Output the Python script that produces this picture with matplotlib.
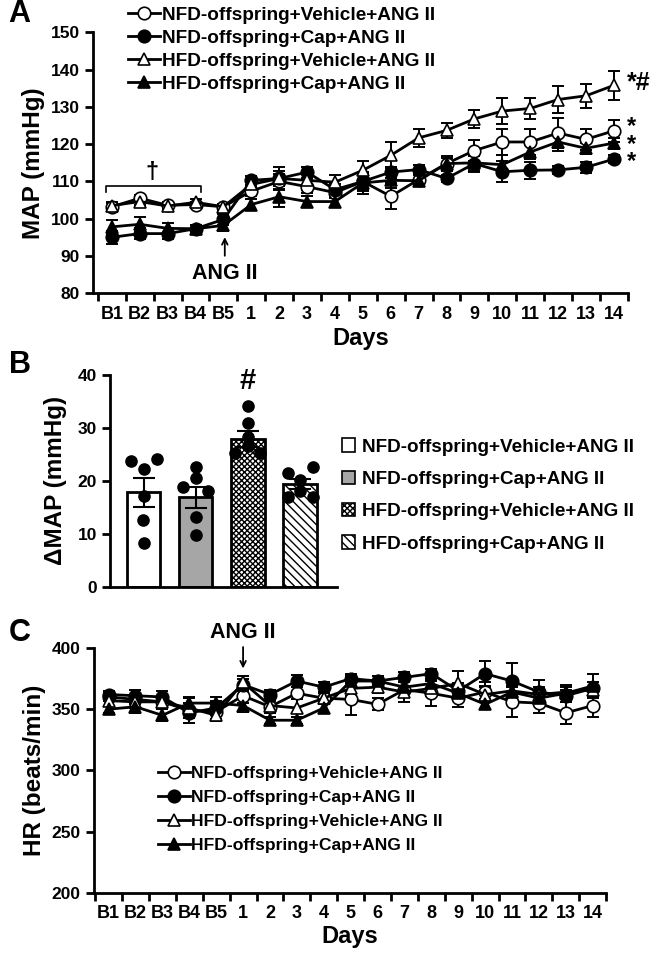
import numpy as np
import matplotlib
matplotlib.use("Agg")
import matplotlib.pyplot as plt
from matplotlib.patches import Patch

plt.rcParams['font.family'] = ['Liberation Sans', 'DejaVu Sans']
plt.rcParams['font.weight'] = 'bold'
plt.rcParams['axes.labelweight'] = 'bold'
plt.rcParams['hatch.linewidth'] = 1.0

# --- Data ---
day_labels = ["B1", "B2", "B3", "B4", "B5", "1", "2", "3", "4", "5", "6", "7",
              "8", "9", "10", "11", "12", "13", "14"]
group_names = ["NFD-offspring+Vehicle+ANG II", "NFD-offspring+Cap+ANG II",
               "HFD-offspring+Vehicle+ANG II", "HFD-offspring+Cap+ANG II"]

# Panel A: MAP (mmHg), mean and SEM
map_nfd_veh = [103.2, 105.5, 103.6, 103.8, 103.2, 107.4, 110.0, 108.6, 107.0, 110.0,
               106.0, 110.5, 114.8, 118.3, 120.6, 120.6, 123.0, 121.3, 123.6]
map_nfd_cap = [95.0, 96.0, 96.0, 97.3, 99.8, 110.3, 110.8, 112.5, 107.8, 110.0,
               112.5, 113.2, 110.8, 114.8, 112.6, 113.0, 113.1, 113.8, 116.0]
map_hfd_veh = [103.5, 104.6, 103.4, 104.4, 103.2, 109.2, 110.8, 110.3, 109.8, 113.0,
               117.0, 121.7, 123.7, 126.8, 128.9, 129.6, 132.0, 133.0, 135.8]
map_hfd_cap = [97.8, 98.5, 97.4, 97.3, 98.2, 103.8, 105.9, 104.6, 104.6, 109.6,
               110.3, 110.2, 114.8, 115.0, 114.5, 117.9, 120.6, 118.9, 120.3]
map_err_nfd_veh = [1.0, 0.8, 0.8, 0.8, 0.8, 1.2, 2.0, 1.8, 1.5, 2.5, 3.5, 1.5, 1.5,
                   2.8, 3.5, 3.5, 4.0, 2.8, 3.0]
map_err_nfd_cap = [1.8, 1.5, 1.5, 1.0, 1.5, 1.2, 2.0, 1.5, 1.5, 2.0, 1.5, 1.2, 1.0,
                   2.0, 2.8, 2.3, 1.0, 1.5, 1.0]
map_err_hfd_veh = [1.0, 0.8, 0.8, 1.0, 0.8, 1.5, 3.2, 2.5, 2.0, 2.5, 3.5, 2.5, 2.0,
                   2.5, 3.5, 2.8, 3.5, 3.2, 3.8]
map_err_hfd_cap = [1.8, 2.0, 1.5, 1.0, 1.5, 1.5, 2.8, 1.5, 1.5, 3.0, 2.0, 1.5, 2.0,
                   2.5, 2.5, 2.0, 2.5, 1.5, 1.5]

# Panel B: delta MAP (mmHg)
dmap_mean = [17.8, 16.9, 27.9, 19.4]
dmap_sem = [2.7, 2.0, 1.6, 1.0]
dmap_points = [
    [23.8, 22.2, 24.1, 17.2, 12.6, 8.2],
    [22.6, 20.6, 18.9, 18.0, 13.2, 9.8],
    [34.1, 31.0, 28.2, 26.5, 25.2, 25.2],
    [21.4, 22.6, 20.2, 17.0, 17.0, 18.0],
]
dmap_jitter = [
    [-0.24, 0.0, 0.25, 0.0, -0.02, 0.0],
    [0.0, 0.0, -0.24, 0.24, 0.0, 0.0],
    [0.0, 0.0, 0.0, 0.0, -0.24, 0.24],
    [-0.24, 0.24, 0.0, -0.24, 0.24, 0.0],
]

# Panel C: HR (beats/min), mean and SEM
hr_nfd_veh = [360, 358, 356, 349, 348, 361, 352, 363, 359, 358, 354, 366, 363, 359,
              364, 356, 355, 347, 353]
hr_nfd_cap = [362, 361, 360, 347, 351, 370, 362, 373, 368, 375, 373, 376, 379, 365,
              379, 373, 364, 361, 367]
hr_hfd_veh = [357, 356, 356, 351, 345, 372, 353, 351, 359, 367, 368, 364, 367, 371,
              362, 365, 362, 364, 366]
hr_hfd_cap = [350, 352, 345, 355, 355, 353, 341, 341, 351, 373, 373, 368, 371, 363,
              354, 364, 359, 363, 369]
hr_err_nfd_veh = [3, 4, 4, 10, 6, 6, 5, 5, 4, 13, 5, 6, 10, 7, 8, 12, 8, 9, 9]
hr_err_nfd_cap = [3, 5, 5, 8, 6, 5, 4, 5, 4, 4, 4, 4, 4, 6, 10, 15, 10, 5, 5]
hr_err_hfd_veh = [4, 4, 4, 8, 5, 5, 6, 7, 5, 6, 5, 8, 6, 10, 6, 8, 6, 6, 6]
hr_err_hfd_cap = [3, 5, 5, 5, 5, 5, 3, 3, 4, 4, 4, 4, 4, 4, 4, 5, 5, 5, 10]

markers = [dict(marker='o', mfc='white'), dict(marker='o', mfc='black'),
           dict(marker='^', mfc='white'), dict(marker='^', mfc='black')]


def draw_series(ax, x, means, errs):
    for m, e, st, name in zip(means, errs, markers, group_names):
        ax.errorbar(x, m, yerr=e, fmt='none', ecolor='black', elinewidth=1.4,
                    capsize=4, capthick=1.4, zorder=2)
        ax.plot(x, m, color='black', lw=2, marker=st['marker'], mfc=st['mfc'],
                mec='black', mew=1.2, ms=9, label=name, zorder=3)


def style_time_axis(ax, n):
    for s in ['top', 'right']:
        ax.spines[s].set_visible(False)
    for s in ['left', 'bottom']:
        ax.spines[s].set_linewidth(2)
    ax.set_xticks(np.arange(n + 1) - 0.5)
    ax.set_xticklabels([])
    ax.set_xticks(np.arange(n), minor=True)
    ax.set_xticklabels(day_labels, minor=True, fontsize=13, fontweight='bold')
    ax.tick_params(axis='x', which='major', length=6, width=2, direction='out')
    ax.tick_params(axis='x', which='minor', length=0, pad=9)
    ax.tick_params(axis='y', length=6, width=2, labelsize=12.5)
    for t in ax.get_yticklabels():
        t.set_fontweight('bold')


fig = plt.figure(figsize=(6.56, 9.55), dpi=100)
x = np.arange(len(day_labels))

# ---------- Panel A ----------
axA = fig.add_axes([0.142, 0.693, 0.815, 0.273])
draw_series(axA, x,
            [map_nfd_veh, map_nfd_cap, map_hfd_veh, map_hfd_cap],
            [map_err_nfd_veh, map_err_nfd_cap, map_err_hfd_veh, map_err_hfd_cap])
axA.set_xlim(-0.67, 18.5)
axA.set_ylim(80, 150)
axA.set_yticks(np.arange(80, 151, 10))
style_time_axis(axA, len(day_labels))
axA.set_ylabel("MAP (mmHg)", fontsize=17.5, labelpad=4)
axA.set_xlabel("Days", fontsize=17, labelpad=3)
axA.legend(loc='upper left', bbox_to_anchor=(0.195, 0.993),
           bbox_transform=fig.transFigure, frameon=False, fontsize=13.7,
           handlelength=1.7, handletextpad=0.1, labelspacing=0.3,
           borderaxespad=0, borderpad=0)
# baseline bracket and dagger
axA.plot([-0.22, -0.22, 3.18, 3.18], [107.3, 108.8, 108.8, 107.3], color='black',
         lw=1.2)
axA.text(1.44, 112.5, "†", ha='center', va='center', fontsize=17, fontweight='bold')
axA.annotate("", xy=(4.05, 95.8), xytext=(4.05, 89.3),
             arrowprops=dict(arrowstyle='->', color='black', lw=1.3))
axA.text(4.05, 85.3, "ANG II", ha='center', va='center', fontsize=15.5,
         fontweight='bold')
axA.text(18.47, 136.3, "*#", ha='left', va='center', fontsize=18,
         fontweight='bold', clip_on=False)
axA.text(18.47, 120.0, "*\n*\n*", ha='left', va='center', fontsize=17,
         fontweight='bold', linespacing=0.68, clip_on=False)
fig.text(0.013, 0.985, "A", fontsize=22, fontweight='bold', va='center')

# ---------- Panel B ----------
axB = fig.add_axes([0.168, 0.3857, 0.345, 0.2217])
xb = np.arange(4)
bar_fc = ['white', '#a6a6a6', 'white', 'white']
bar_hatch = [None, None, 'xxxxxx', '\\\\\\\\']
for i in range(4):
    axB.bar(xb[i], dmap_mean[i], width=0.64, color=bar_fc[i], edgecolor='black',
            linewidth=2, hatch=bar_hatch[i], zorder=1)
    axB.errorbar(xb[i], dmap_mean[i], yerr=dmap_sem[i], fmt='none', ecolor='black',
                 elinewidth=1.5, capsize=8, capthick=1.5, zorder=2)
    axB.scatter(xb[i] + np.array(dmap_jitter[i]), dmap_points[i], s=65,
                color='black', zorder=3)
axB.set_xlim(-0.64, 3.7)
axB.set_ylim(0, 40)
axB.set_yticks([0, 10, 20, 30, 40])
axB.set_xticks([])
for s in ['top', 'right']:
    axB.spines[s].set_visible(False)
for s in ['left', 'bottom']:
    axB.spines[s].set_linewidth(2)
axB.tick_params(axis='y', length=6, width=2, labelsize=12.5)
for t in axB.get_yticklabels():
    t.set_fontweight('bold')
axB.set_ylabel("ΔMAP (mmHg)", fontsize=17.5, labelpad=8)
axB.text(2, 38.8, "#", ha='center', va='center', fontsize=21, fontweight='bold',
         clip_on=False)
handles = [Patch(facecolor=bar_fc[i], edgecolor='black', hatch=bar_hatch[i], lw=1.2)
           for i in range(4)]
axB.legend(handles, group_names, loc='upper left', bbox_to_anchor=(0.521, 0.541),
           bbox_transform=fig.transFigure, frameon=False, fontsize=13.6,
           handlelength=0.7, handleheight=0.7, handletextpad=0.37,
           labelspacing=0.8, borderaxespad=0, borderpad=0)
fig.text(0.013, 0.618, "B", fontsize=22, fontweight='bold', va='center')

# ---------- Panel C ----------
axC = fig.add_axes([0.143, 0.065, 0.781, 0.2565])
draw_series(axC, x,
            [hr_nfd_veh, hr_nfd_cap, hr_hfd_veh, hr_hfd_cap],
            [hr_err_nfd_veh, hr_err_nfd_cap, hr_err_hfd_veh, hr_err_hfd_cap])
axC.set_xlim(-0.55, 18.5)
axC.set_ylim(200, 400)
axC.set_yticks(np.arange(200, 401, 50))
style_time_axis(axC, len(day_labels))
axC.set_ylabel("HR (beats/min)", fontsize=17.5, labelpad=4)
axC.set_xlabel("Days", fontsize=17, labelpad=2)
axC.legend(loc='upper left', bbox_to_anchor=(0.241, 0.198),
           bbox_transform=fig.transFigure, frameon=False, fontsize=12.6,
           handlelength=1.8, handletextpad=0.1, labelspacing=0.5,
           borderaxespad=0, borderpad=0)
axC.annotate("", xy=(5.0, 381), xytext=(5.0, 403),
             arrowprops=dict(arrowstyle='->', color='black', lw=1.3),
             annotation_clip=False)
axC.text(5.0, 412.5, "ANG II", ha='center', va='center', fontsize=15.5,
         fontweight='bold', clip_on=False)
fig.text(0.013, 0.337, "C", fontsize=22, fontweight='bold', va='center')

fig.savefig("out.png", dpi=100)
